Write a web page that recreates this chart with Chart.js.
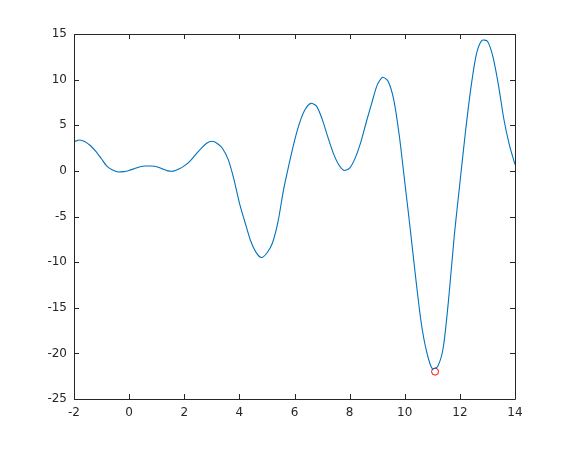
<!DOCTYPE html>
<html>
<head>
<meta charset="utf-8">
<script src="https://cdn.jsdelivr.net/npm/chart.js@4"></script>
<style>
  html, body { margin: 0; padding: 0; background: #fff; }
  #wrap { width: 570px; height: 450px; }
</style>
</head>
<body>
<div id="wrap"><canvas id="plot" width="570" height="450"></canvas></div>
<script>
// curve samples
const xs = [-2.0,-1.8,-1.6,-1.4,-1.2,-1.0,-0.8,-0.6,-0.4,-0.2,
  0.0,0.2,0.4,0.6,0.8,1.0,1.2,1.4,1.6,1.8,
  2.0,2.2,2.4,2.6,2.8,3.0,3.2,3.4,3.6,3.8,
  4.0,4.2,4.4,4.6,4.8,5.0,5.2,5.4,5.6,5.8,
  6.0,6.2,6.4,6.6,6.8,7.0,7.2,7.4,7.6,7.8,
  8.0,8.2,8.4,8.6,8.8,9.0,9.2,9.4,9.6,9.8,
  10.0,10.2,10.4,10.6,10.8,11.0,11.2,11.4,11.6,11.8,
  12.0,12.2,12.4,12.6,12.8,13.0,13.2,13.4,13.6,13.8,14.0];
const ys = [3.2,3.38,3.2,2.75,2.1,1.3,0.5,0.1,-0.12,-0.08,
  0.05,0.25,0.45,0.53,0.53,0.46,0.22,0.0,-0.03,0.2,
  0.55,1.05,1.75,2.4,3.0,3.24,3.0,2.4,1.2,-0.9,
  -3.5,-5.6,-7.6,-8.9,-9.5,-9.0,-7.9,-5.6,-2.1,0.7,
  3.3,5.4,6.8,7.4,7.1,5.7,3.8,2.0,0.7,0.05,
  0.3,1.4,3.1,5.3,7.4,9.4,10.26,9.8,7.8,3.9,
  -1.2,-6.4,-11.8,-16.7,-19.9,-21.7,-21.4,-19.3,-13.8,-7.0,
  -1.36,4.2,9.1,12.8,14.3,14.2,12.5,9.4,5.6,2.8,0.7];

// minimum marker
const minX = [11.1];
const minY = [-22.0];

const xTicks = [-2, 0, 2, 4, 6, 8, 10, 12, 14];
const yTicks = [-25, -20, -15, -10, -5, 0, 5, 10, 15];

const axisColor = '#262626';

// box + inward ticks on all four sides, like the octave axes
const boxTicks = {
  id: 'boxTicks',
  afterDraw(chart){
    const { ctx, chartArea: a, scales } = chart;
    const len = 5;
    ctx.save();
    ctx.strokeStyle = axisColor;
    ctx.lineWidth = 1;
    ctx.beginPath();
    ctx.rect(Math.round(a.left) + 0.5, Math.round(a.top) + 0.5,
             Math.round(a.right - a.left), Math.round(a.bottom - a.top));
    xTicks.forEach(v => {
      const px = Math.round(scales.x.getPixelForValue(v)) + 0.5;
      ctx.moveTo(px, a.bottom); ctx.lineTo(px, a.bottom - len);
      ctx.moveTo(px, a.top);    ctx.lineTo(px, a.top + len);
    });
    yTicks.forEach(v => {
      const py = Math.round(scales.y.getPixelForValue(v)) + 0.5;
      ctx.moveTo(a.left, py);  ctx.lineTo(a.left + len, py);
      ctx.moveTo(a.right, py); ctx.lineTo(a.right - len, py);
    });
    ctx.stroke();
    ctx.restore();
  }
};

const curve = xs.map((x, i) => ({ x, y: ys[i] }));
const minPts = minX.map((x, i) => ({ x, y: minY[i] }));

new Chart(document.getElementById('plot'), {
  type: 'scatter',
  data: {
    datasets: [
      {
        data: curve,
        showLine: true,
        borderColor: '#0072BD',
        borderWidth: 1.1,
        pointRadius: 0,
        tension: 0.25,
        fill: false
      },
      {
        data: minPts,
        showLine: false,
        pointStyle: 'circle',
        pointRadius: 3.5,
        borderColor: '#ff0000',
        borderWidth: 1,
        backgroundColor: 'rgba(0,0,0,0)'
      }
    ]
  },
  options: {
    responsive: false,
    animation: false,
    events: [],
    layout: { padding: { top: 34, right: 55, left: 0, bottom: 0 } },
    plugins: { legend: { display: false }, tooltip: { enabled: false } },
    scales: {
      x: {
        type: 'linear', min: -2, max: 14,
        afterFit: s => { s.height = 51; },
        afterBuildTicks: s => { s.ticks = xTicks.map(v => ({ value: v })); },
        grid: { display: false, drawTicks: false },
        border: { display: false },
        ticks: { color: axisColor, padding: 7, font: { family: 'DejaVu Sans', size: 12 } }
      },
      y: {
        type: 'linear', min: -25, max: 15,
        afterFit: s => { s.width = 74; },
        afterBuildTicks: s => { s.ticks = yTicks.map(v => ({ value: v })); },
        grid: { display: false, drawTicks: false },
        border: { display: false },
        ticks: { color: axisColor, padding: 7, font: { family: 'DejaVu Sans', size: 12 } }
      }
    }
  },
  plugins: [boxTicks]
});
</script>
</body>
</html>
